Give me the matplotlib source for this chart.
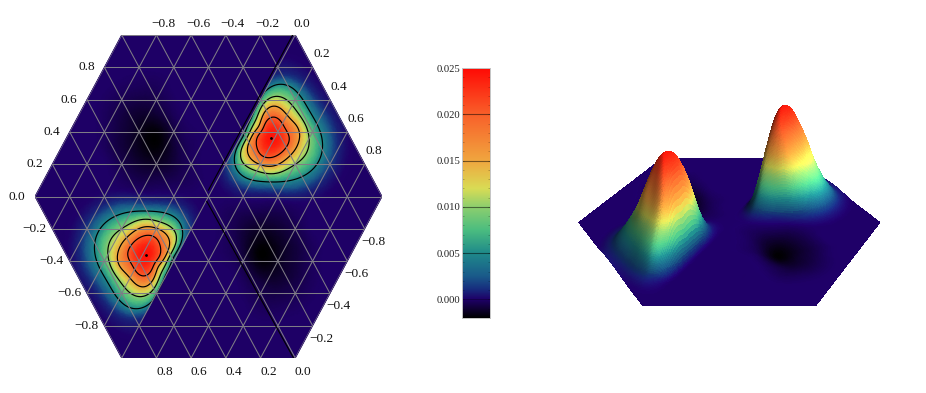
import numpy as np
import matplotlib
matplotlib.use('Agg')
import matplotlib.pyplot as plt
import matplotlib.tri as mtri
from matplotlib.colors import LinearSegmentedColormap, Normalize
from matplotlib.patches import Polygon
from mpl_toolkits.mplot3d.art3d import Poly3DCollection

plt.rcParams['font.family'] = ['Liberation Serif', 'DejaVu Serif']

# peak read as distance of each contour from the top, every 30 degrees, in 1/3 pixel
peak_u, peak_v = 0.363, 0.361
peak_levels = [0.020, 0.015, 0.010, 0.005, 0.001, 0.0]
r020 = [55, 50, 60, 65, 48, 40, 47, 52, 62, 60, 55, 54]
r015 = [85, 85, 85, 97, 60, 50, 65, 85, 88, 85, 77, 77]
r010 = [112, 108, 118, 122, 83, 70, 75, 110, 108, 107, 103, 112]
r005 = [150, 138, 158, 155, 95, 77, 84, 127, 140, 130, 142, 157]
r001 = [196, 180, 190, 178, 125, 100, 110, 160, 172, 158, 182, 198]
r000 = [235, 220, 235, 240, 170, 130, 130, 195, 210, 188, 222, 240]
peak_top = 0.025

# upper left sector, u = -1..0, v = 1..0
dip = np.array([
    [0, 0, 0, 0, 0, 0, 0, 0, 0, 0, 0],
    [0, 0, 0, 0, 0, 0, 0, 0, 0, 0, 0],
    [0, 0, 0, 0, 0, 0, 0, 0, 0, 0, 0],
    [0, 0, 0, 0, 0, -.0001, -.0002, -.0002, 0, 0, 0],
    [0, 0, 0, 0, -.0001, -.0004, -.0006, -.0005, -.0001, 0, 0],
    [0, 0, 0, 0, -.0002, -.0007, -.0011, -.0010, -.0003, 0, 0],
    [0, 0, 0, 0, -.0002, -.0008, -.0014, -.0018, -.0007, -.0001, 0],
    [0, 0, 0, 0, -.0002, -.0008, -.0014, -.0018, -.0009, -.0002, 0],
    [0, 0, 0, 0, 0, -.0005, -.0010, -.0012, -.0008, -.0002, 0],
    [0, 0, 0, 0, 0, -.0002, -.0005, -.0005, -.0004, -.0002, 0],
    [0, 0, 0, 0, 0, 0, 0, 0, 0, 0, 0],
])

levels = [0.005, 0.010, 0.015, 0.020]
bar_ticks = [0.000, 0.005, 0.010, 0.015, 0.020, 0.025]
top_ticks = [-0.8, -0.6, -0.4, -0.2, 0.0]
right_up_ticks = [0.2, 0.4, 0.6, 0.8]
left_up_ticks = [0.8, 0.6, 0.4, 0.2, 0.0]
left_low_ticks = [-0.2, -0.4, -0.6, -0.8]
bottom_ticks = [0.8, 0.6, 0.4, 0.2, 0.0]
right_low_ticks = [-0.8, -0.6, -0.4, -0.2]

cmap_values = [-0.002, 0.0, 0.0012, 0.0025, 0.005, 0.0075, 0.010, 0.012, 0.015, 0.020, 0.025]
cmap_colors = ['#000000', '#1f0068', '#17307f', '#1a5a8a', '#1f8a8a', '#4bbd80',
               '#8ecf6e', '#d9dc55', '#f0a63f', '#f9602a', '#ff0a05']

vmin, vmax = -0.002, 0.025
norm = Normalize(vmin, vmax)
cmap = LinearSegmentedColormap.from_list(
    'bands', [((v - vmin) / (vmax - vmin), c) for v, c in zip(cmap_values, cmap_colors)], N=512)

# mesh of the hexagon, lattice lines follow the drawn grid
nodes = []
for k in range(-10, 11):
    half = 1 - abs(k) / 20
    for i in range(20 - abs(k) + 1):
        nodes.append((-half + i / 10, k / 10))
nodes = np.array(nodes)
coarse = mtri.Triangulation(nodes[:, 0], nodes[:, 1] * np.sqrt(3) / 2)
fine = mtri.UniformTriRefiner(coarse).refine_triangulation(subdiv=4)
u = fine.x
v = fine.y / (np.sqrt(3) / 2)
edges = fine.edges


def soften(f, n):
    deg = np.zeros_like(f)
    np.add.at(deg, edges[:, 0], 1)
    np.add.at(deg, edges[:, 1], 1)
    for _ in range(n):
        s = np.zeros_like(f)
        np.add.at(s, edges[:, 0], f[edges[:, 1]])
        np.add.at(s, edges[:, 1], f[edges[:, 0]])
        f = 0.5 * f + 0.5 * s / deg
    return f


def around(samples):
    # closed curve through the 12 readings
    spec = np.fft.rfft(samples)
    spec[-1] *= 0.5
    full = np.zeros(181, dtype=complex)
    full[:len(spec)] = spec
    return np.fft.irfft(full, 360) * 360 / len(samples) / 3


rings = [around(r) for r in (r020, r015, r010, r005, r001, r000)]
rings = np.array([rings[0] * 0.5] + rings)
ring_vals = np.array([peak_top - 0.00125] + peak_levels)


def peak_field(x, y):
    dx = (x - peak_u) * 173.5
    dy = (y - peak_v) * 161.5
    r = np.hypot(dx, dy)
    ang = np.degrees(np.arctan2(dy, dx)) % 360
    a = ang.astype(int) % 360
    out = np.zeros_like(x)
    for i in np.nonzero(r < rings[-1][a])[0]:
        out[i] = np.interp(r[i], np.r_[0, rings[:, a[i]]], np.r_[peak_top, ring_vals])
    return out


up_f = soften(peak_field(u, v), 24)
low_f = soften(peak_field(-u, -v), 24)

grid_u, grid_v = np.meshgrid(np.linspace(-1, 1, 21), np.linspace(1, -1, 21))
table_tri = mtri.Triangulation(grid_u.ravel(), grid_v.ravel())
upper = np.hstack([dip[:, :-1], np.zeros_like(dip)])
dip_table = np.vstack([upper, upper[:-1][::-1, ::-1]])
dip_f = mtri.CubicTriInterpolator(table_tri, dip_table.ravel(), kind='min_E')(u, v)
dip_f = np.clip(np.ma.filled(dip_f, 0), None, 0)

# peaks stop on the lines through the centre
side = u - v / 2
field = np.where(side >= -1e-6, up_f, 0) + np.where(side <= 1e-6, low_f, 0) + dip_f
# same stop on the surface, as a steep slope
field3 = up_f * np.clip(side / 0.12, 0, 1) + low_f * np.clip(-side / 0.12, 0, 1) + dip_f
field3 = soften(field3, 16)

fig = plt.figure(figsize=(9.26, 3.93), dpi=100)
W, H = 926, 393

# left panel
ax = fig.add_axes([35 / W, (H - 358) / H, 347 / W, 323 / H])
ax.set_xlim(-1, 1)
ax.set_ylim(-1, 1)
ax.axis('off')
plane = mtri.Triangulation(u, v, fine.triangles)
ax.tripcolor(plane, field, shading='gouraud', cmap=cmap, norm=norm)
ax.tricontour(plane, field, levels=levels, colors='k', linewidths=0.85)

hexagon = Polygon([(-1, 0), (-0.5, 1), (0.5, 1), (1, 0), (0.5, -1), (-0.5, -1)], closed=True,
                  fc='none', ec='none', transform=ax.transData)
ax.add_patch(hexagon)
grid_color = '#7f7c86'
vv = np.array([-1, 1])
for c in np.arange(-10, 11, 2) / 10:
    for s in (0.5, -0.5):
        ln, = ax.plot(c + s * vv, vv, color=grid_color, lw=0.75)
        ln.set_clip_path(hexagon)
for c in np.arange(-10, 11, 2) / 10:
    ln, = ax.plot([-1, 1], [c, c], color=grid_color, lw=0.75)
    ln.set_clip_path(hexagon)

# black seams
ax.plot([0.485, 0.0], [1, 0.04], color='k', lw=0.8)
ax.plot([-0.01, 0.49], [-0.03, -1], color='k', lw=0.8)

ax.plot(peak_u, peak_v, 'k.', ms=2)
ax.plot(-peak_u, -peak_v, 'k.', ms=2)


def tick(text, x, y, dx, dy):
    ax.annotate(text, (x, y), xytext=(dx, dy), textcoords='offset pixels', ha='center',
                va='center', fontsize=9.6, annotation_clip=False, color='#111111')


def fmt(val):
    return f'{val:.1f}'.replace('-', '\u2212')


for t in top_ticks:
    tick(fmt(t), 0.5 + t, 1, 7, 11)
for t in right_up_ticks:
    tick(fmt(t), 1 - (1 - t) / 2, 1 - t, 9, 13)
for t in left_up_ticks:
    tick(fmt(t), -1 + t / 2, t, -18, 0)
for t in left_low_ticks:
    tick(fmt(t), -1 - t / 2, t, -18, 0)
for t in bottom_ticks:
    tick(fmt(t), 0.5 - t, -1, 8, -14)
for t in right_low_ticks:
    vt = -1 - t
    tick(fmt(t), 1 + vt / 2, vt, 9, -13)

# colour bar
cax = fig.add_axes([462 / W, (H - 318) / H, 28 / W, 250 / H])
ramp = np.linspace(vmax, vmin, 512).reshape(-1, 1)
cax.imshow(ramp, cmap=cmap, norm=norm, aspect='auto', extent=[0, 1, vmin, vmax])
cax.set_xticks([])
cax.set_yticks(bar_ticks)
cax.set_yticklabels([f'{t:.3f}' for t in bar_ticks], fontsize=7.7, color='#222222')
cax.tick_params(axis='y', length=0, pad=1)
cax.hlines(bar_ticks[1:-1], 0, 1, color='k', lw=0.8, alpha=0.5)
cax.hlines(0, 0, 1, color='k', lw=0.6, alpha=0.3)
minor = np.arange(-1, 25) * 0.001
cax.hlines(minor, 0, 0.06, color='k', lw=0.5, alpha=0.3)
cax.hlines(minor, 0.94, 1, color='k', lw=0.5, alpha=0.3)
for sp in cax.spines.values():
    sp.set_color('#c4c4c4')
    sp.set_linewidth(0.7)

# surface
zscale = 29.0
ax3 = fig.add_axes([525 / W, (H - 345) / H, 400 / W, 320 / H], projection='3d')
ax3.set_proj_type('persp', focal_length=0.5)
ax3.view_init(elev=31, azim=-90)
pts = np.column_stack([u, fine.y, field3 * zscale])
tris = pts[fine.triangles]
normals = np.cross(tris[:, 1] - tris[:, 0], tris[:, 2] - tris[:, 0])
normals[normals[:, 2] < 0] *= -1
vert_n = np.zeros_like(pts)
for j in range(3):
    np.add.at(vert_n, fine.triangles[:, j], normals)
vert_n = vert_n / np.linalg.norm(vert_n, axis=1, keepdims=True)
light = np.array([0.45, -0.3, 0.84])
light = light / np.linalg.norm(light)
shade = np.clip(vert_n @ light, 0, 1)[fine.triangles].mean(axis=1, keepdims=True)
face_val = field3[fine.triangles].mean(axis=1, keepdims=True)
rgb = cmap(norm(face_val[:, 0]))[:, :3]
gain = 1 + 0.25 * np.clip((face_val - 0.002) / 0.004, 0, 1)
rgb = np.clip(rgb * gain * (0.35 + 0.8 * shade), 0, 1)
surf = Poly3DCollection(tris, facecolors=rgb, edgecolors=rgb, linewidths=0.3,
                        antialiased=False, zsort='average')
ax3.add_collection3d(surf)
ax3.set_xlim(-1, 1)
ax3.set_ylim(-0.866, 0.866)
ax3.set_zlim(-0.05, 0.7)
ax3.set_box_aspect((2, 1.732, 0.75), zoom=1.29)
ax3.set_axis_off()
ax3.patch.set_alpha(0)

fig.savefig('out.png', dpi=100)
